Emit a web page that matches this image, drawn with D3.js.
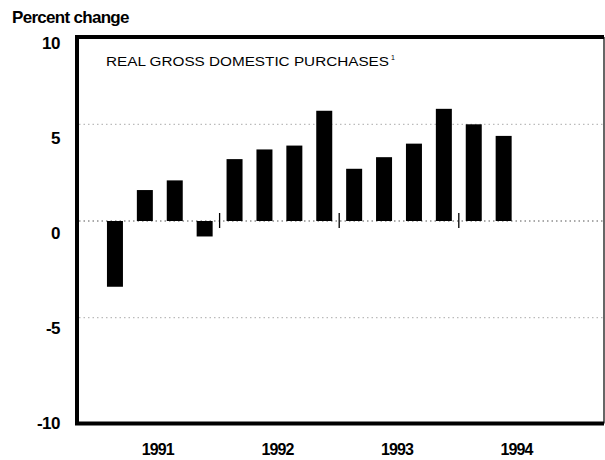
<!DOCTYPE html>
<html>
<head>
<meta charset="utf-8">
<script src="https://cdn.jsdelivr.net/npm/d3@7"></script>
<style>
  body { margin: 0; background: #fff; }
  svg { display: block; font-family: "Liberation Sans", Arial, sans-serif; }
</style>
</head>
<body>
<svg id="chart" width="605" height="460"></svg>
<script>
// quarterly data, 1991:Q1 - 1994:Q2
var quarters = ["1991Q1","1991Q2","1991Q3","1991Q4",
                "1992Q1","1992Q2","1992Q3","1992Q4",
                "1993Q1","1993Q2","1993Q3","1993Q4",
                "1994Q1","1994Q2","1994Q3","1994Q4"];
var values = [-3.4, 1.6, 2.1, -0.8, 3.2, 3.7, 3.9, 5.7, 2.7, 3.3, 4.0, 5.8, 5.0, 4.4];
var years = ["1991", "1992", "1993", "1994"];
var yTicks = [-10, -5, 0, 5, 10];
var gridValues = [5, 0, -5];

var svg = d3.select("#chart");

// plot frame
var frame = { left: 77, right: 604, top: 37, bottom: 423.5 };

// bars and grid sit a little above the printed tick labels in the original
var y = d3.scaleLinear().domain([-10, 10]).range([414.4, 27.6]);
var yLab = d3.scaleLinear().domain([-10, 10]).range([423, 42.7]);

var x = d3.scaleBand()
    .domain(quarters)
    .range([100, 578.4])
    .paddingInner(0.465)
    .paddingOuter(0.2325);

var xYear = d3.scaleBand().domain(years).range([98, 576.4]);

// title
svg.append("text")
    .attr("x", 12)
    .attr("y", 23)
    .style("font-size", "17px")
    .style("font-weight", "bold")
    .style("letter-spacing", "-0.7px")
    .text("Percent change");

// gridlines
svg.selectAll(".grid")
    .data(gridValues)
    .enter().append("line")
    .attr("class", "grid")
    .attr("x1", frame.left + 2)
    .attr("x2", frame.right)
    .attr("y1", function(d) { return y(d); })
    .attr("y2", function(d) { return y(d); })
    .style("stroke", function(d) { return d === 0 ? "#555" : "#aaa"; })
    .style("stroke-width", 1)
    .style("stroke-dasharray", "1.5,3");

// bars
svg.selectAll(".bar")
    .data(values)
    .enter().append("rect")
    .attr("class", "bar")
    .attr("x", function(d, i) { return x(quarters[i]); })
    .attr("width", x.bandwidth())
    .attr("y", function(d) { return y(Math.max(0, d)); })
    .attr("height", function(d) { return Math.abs(y(d) - y(0)); })
    .style("fill", "#000");

// year separators on the zero line
var gap = (x.step() - x.bandwidth()) / 2;
svg.selectAll(".ysep")
    .data(years.slice(1))
    .enter().append("line")
    .attr("class", "ysep")
    .attr("x1", function(d) { return x(d + "Q1") - gap; })
    .attr("x2", function(d) { return x(d + "Q1") - gap; })
    .attr("y1", y(0) - 8)
    .attr("y2", y(0) + 7)
    .style("stroke", "#000")
    .style("stroke-width", 1.3);

// frame
svg.append("line")
    .attr("x1", frame.right).attr("x2", frame.right)
    .attr("y1", frame.top).attr("y2", frame.bottom)
    .style("stroke", "#000").style("stroke-width", 1.2);
svg.append("path")
    .attr("d", "M" + frame.right + "," + frame.top + "H" + frame.left + "V" + frame.bottom + "H" + frame.right)
    .style("fill", "none")
    .style("stroke", "#000")
    .style("stroke-width", 4);

// y axis labels
var yAxis = svg.append("g")
    .attr("transform", "translate(60,0)")
    .call(d3.axisLeft(yLab).tickValues(yTicks).tickSize(0).tickPadding(0)
        .tickFormat(function(d) { return d; }));
yAxis.select(".domain").remove();
yAxis.selectAll("text")
    .style("font-family", "\"Liberation Sans\", Arial, sans-serif")
    .style("font-size", "17px")
    .style("font-weight", "bold")
    .style("letter-spacing", "-0.5px")
    .style("fill", "#000");

// x axis year labels
var xAxis = svg.append("g")
    .attr("transform", "translate(0," + frame.bottom + ")")
    .call(d3.axisBottom(xYear).tickSize(0).tickPadding(20));
xAxis.select(".domain").remove();
xAxis.selectAll("text")
    .style("font-family", "\"Liberation Sans\", Arial, sans-serif")
    .style("font-size", "16px")
    .style("font-weight", "bold")
    .style("letter-spacing", "-0.9px")
    .style("fill", "#000");

// series label inside the panel
svg.append("text")
    .attr("x", 106)
    .attr("y", 66)
    .style("font-size", "12.5px")
    .attr("textLength", 283)
    .attr("lengthAdjust", "spacingAndGlyphs")
    .text("REAL GROSS DOMESTIC PURCHASES");
svg.append("text")
    .attr("x", 391)
    .attr("y", 60)
    .style("font-size", "7px")
    .text("1");
</script>
</body>
</html>
